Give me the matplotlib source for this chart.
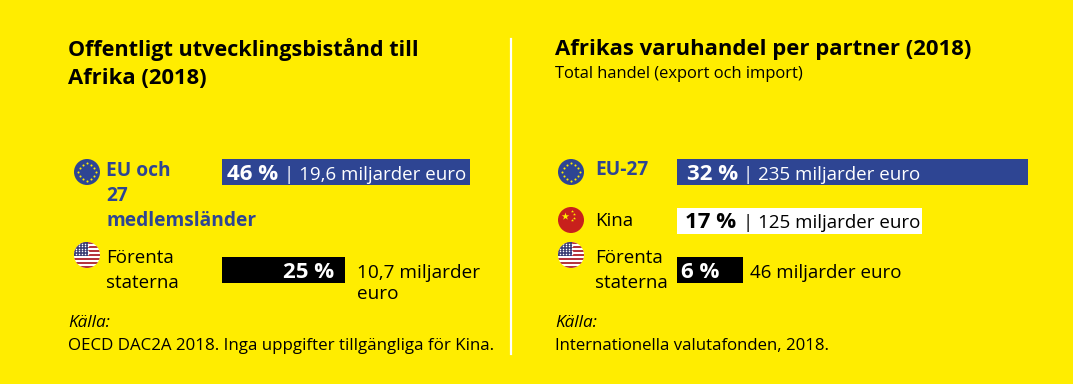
import numpy as np
import matplotlib
matplotlib.use('Agg')
import matplotlib.pyplot as plt
from matplotlib.patches import Circle, Rectangle

W, H = 1073, 384
YELLOW = '#ffed00'
BLUE = '#2e4593'
FONT = 'Open Sans'

left_share = [46, 25]
left_drawn = [46, 22.8]
left_amount = ['19,6 miljarder euro', '10,7 miljarder\neuro']
left_rows = [0, 2]

right_share = [32, 17, 6]
right_drawn = [32, 22.3, 6]
right_amount = ['235 miljarder euro', '125 miljarder euro', '46 miljarder euro']
right_rows = [0, 1, 2]

plt.rcParams['font.family'] = [FONT, 'DejaVu Sans']

fig = plt.figure(figsize=(W / 100, H / 100), dpi=100, facecolor=YELLOW)


def px_axes(x0, y0, x1, y1):
    a = fig.add_axes([x0 / W, 1 - y1 / H, (x1 - x0) / W, (y1 - y0) / H])
    a.axis('off')
    return a


# overlay in pixels, for text and flags
ov = px_axes(0, 0, W, H)
ov.set_xlim(0, W)
ov.set_ylim(H, 0)
ov.set_zorder(5)

# bar axes: rows 0,1,2 have centres at y = 172.5, 221, 270
ax1 = px_axes(222, 148, 470, 294.5)
ax1.set_xlim(0, 46)
ax1.set_ylim(2.5, -0.5)
ax1.barh(left_rows, left_drawn, height=0.53, color=[BLUE, 'black'])

ax2 = px_axes(677, 148, 1028, 294.5)
ax2.set_xlim(0, 32)
ax2.set_ylim(2.5, -0.5)
ax2.barh(right_rows, right_drawn, height=0.53, color=[BLUE, 'white', 'black'])


def txt(x, y, s, size=13.5, weight='normal', color='black', **kw):
    kw.setdefault('va', 'center')
    return ov.text(x, y, s, fontsize=size, fontweight=weight, color=color, **kw)


def eu_flag(cx, cy, r=13):
    ov.add_patch(Circle((cx, cy), r, color=BLUE, lw=0))
    ang = np.arange(12) * np.pi / 6
    ov.scatter(cx + 0.66 * r * np.cos(ang), cy + 0.66 * r * np.sin(ang), s=2.2, color=YELLOW, lw=0, zorder=3)


def cn_flag(cx, cy, r=13):
    ov.add_patch(Circle((cx, cy), r, color='#c8201c', lw=0))
    ov.scatter([cx - 6], [cy - 4], s=32, marker='*', color=YELLOW, lw=0, zorder=3)
    ov.scatter([cx + 0.5, cx + 3, cx + 3, cx + 0.5], [cy - 9, cy - 6, cy - 2.5, cy], s=5, marker='*', color=YELLOW, lw=0, zorder=3)


def us_flag(cx, cy, r=13):
    clip = Circle((cx, cy), r, transform=ov.transData)
    base = Rectangle((cx - r, cy - r), 2 * r, 2 * r, color='white', lw=0)
    ov.add_patch(base)
    base.set_clip_path(clip)
    h = 2 * r / 13
    for i in range(0, 13, 2):
        s = Rectangle((cx - r, cy - r + i * h), 2 * r, h, color='#b5343c', lw=0, zorder=2)
        ov.add_patch(s)
        s.set_clip_path(clip)
    c = Rectangle((cx - r, cy - r), r * 1.1, h * 7, color='#3c3f75', lw=0, zorder=3)
    ov.add_patch(c)
    c.set_clip_path(clip)
    xs, ys = np.meshgrid(np.arange(cx - r + 2, cx + 0.1 * r, 3), np.arange(cy - r + 1.5, cy - r + h * 7, 2.6))
    st = ov.scatter(xs.ravel(), ys.ravel(), s=1.2, color='white', lw=0, zorder=4)
    st.set_clip_path(clip)


# headings
txt(68, 50, 'Offentligt utvecklingsbistånd till', size=15.6, weight='bold')
txt(68, 78, 'Afrika (2018)', size=15.8, weight='bold')
txt(555, 50, 'Afrikas varuhandel per partner (2018)', size=15.9, weight='bold')
txt(555, 74, 'Total handel (export och import)', size=11.9)

# divider
ov.plot([511, 511], [39, 354], color='white', lw=1.6)

# left panel
eu_flag(87, 172)
us_flag(87, 255)
txt(106, 171, 'EU och', size=13.8, weight='bold', color=BLUE)
txt(106, 196, '27', size=13.8, weight='bold', color=BLUE)
txt(106, 221, 'medlemsländer', size=13.8, weight='bold', color=BLUE)
txt(106, 258, 'Förenta')
txt(106, 283, 'staterna')

txt(227, 175, f'{left_share[0]} %', size=16, weight='bold', color='white')
txt(284, 175, f'| {left_amount[0]}', color='white')
txt(334, 272, f'{left_share[1]} %', size=16, weight='bold', color='white', ha='right')
txt(357, 273, left_amount[1].split('\n')[0], size=13.7)
txt(357, 294, left_amount[1].split('\n')[1], size=13.7)

txt(68, 323, 'Källa:', size=12.3, style='italic')
txt(68, 346, 'OECD DAC2A 2018. Inga uppgifter tillgängliga för Kina.', size=12.2)

# right panel
eu_flag(571, 172)
cn_flag(571, 220)
us_flag(571, 255)
txt(595, 170, 'EU-27', size=13.8, weight='bold', color=BLUE)
txt(595, 221, 'Kina')
txt(595, 258, 'Förenta')
txt(595, 283, 'staterna')

txt(687, 175, f'{right_share[0]} %', size=16, weight='bold', color='white')
txt(743, 175, f'| {right_amount[0]}', color='white')
txt(685, 223, f'{right_share[1]} %', size=16, weight='bold', color='black')
txt(743, 223, f'| {right_amount[1]}', color='black')
txt(681, 272, f'{right_share[2]} %', size=16, weight='bold', color='white')
txt(750, 273, right_amount[2])

txt(555, 323, 'Källa:', size=12.3, style='italic')
txt(555, 346, 'Internationella valutafonden, 2018.', size=12.1)

fig.savefig('out.png', dpi=100, facecolor=YELLOW)
